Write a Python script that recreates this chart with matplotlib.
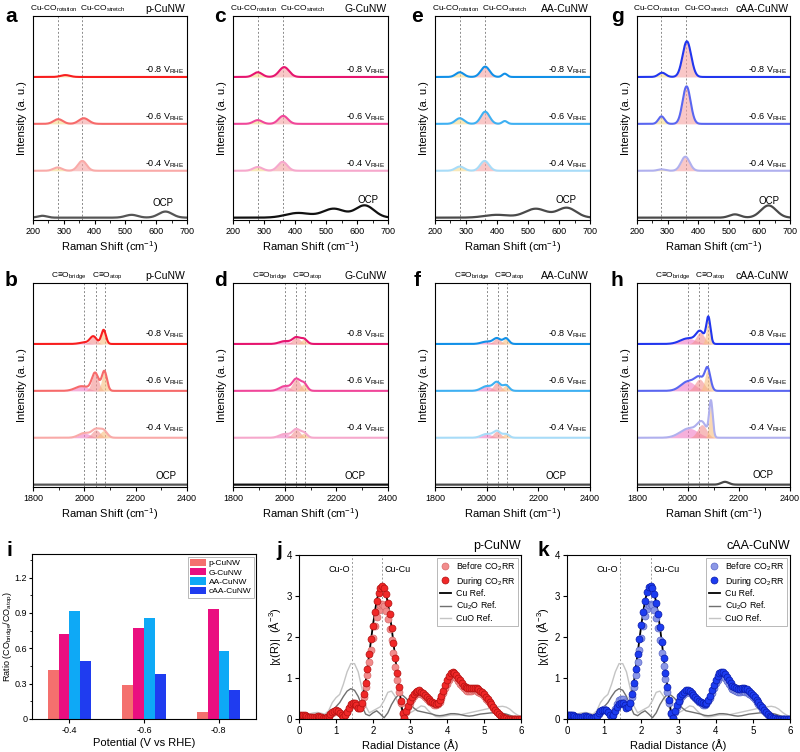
import numpy as np
import matplotlib
matplotlib.use('Agg')
import matplotlib.pyplot as plt
from matplotlib.ticker import MultipleLocator
from matplotlib.lines import Line2D

plt.rcParams['font.family'] = ['Liberation Sans', 'DejaVu Sans']
plt.rcParams['mathtext.default'] = 'regular'
plt.rcParams['axes.linewidth'] = 0.8
plt.rcParams['xtick.major.width'] = 0.8
plt.rcParams['ytick.major.width'] = 0.8
plt.rcParams['xtick.major.size'] = 3
plt.rcParams['ytick.major.size'] = 3
plt.rcParams['xtick.minor.size'] = 1.8
plt.rcParams['ytick.minor.size'] = 1.8

# ---------------- data ----------------
samples = ['p-CuNW', 'G-CuNW', 'AA-CuNW', 'cAA-CuNW']
potentials = ['-0.4', '-0.6', '-0.8']

# fitted Raman components (center cm-1, height a.u., sigma cm-1), one list per potential (-0.4, -0.6, -0.8)
cuco_p = [[(280, 0.07, 14), (360, 0.21, 14)],
          [(282, 0.10, 15), (365, 0.12, 16)],
          [(305, 0.04, 15), (360, 0.00, 15)]]
cuco_g = [[(280, 0.08, 15), (360, 0.19, 15)],
          [(280, 0.08, 14), (362, 0.17, 15)],
          [(280, 0.10, 14), (365, 0.21, 16)]]
cuco_aa = [[(280, 0.09, 14), (360, 0.21, 14)],
           [(280, 0.12, 14), (362, 0.26, 14), (425, 0.06, 8)],
           [(280, 0.10, 13), (362, 0.22, 14), (425, 0.07, 8)]]
cuco_caa = [[(280, 0.03, 12), (358, 0.30, 14)],
            [(280, 0.16, 10), (362, 0.80, 13)],
            [(282, 0.09, 12), (363, 0.76, 14)]]

ocp_low_p = [(230, 0.04, 15), (520, 0.06, 20), (630, 0.13, 22)]
ocp_low_g = [(410, 0.10, 40), (525, 0.19, 35), (625, 0.26, 30)]
ocp_low_aa = [(400, 0.06, 40), (525, 0.19, 35), (625, 0.21, 30)]
ocp_low_caa = [(520, 0.07, 18), (630, 0.26, 25)]

# C≡O region: bridge, intermediate, atop components
cob_p = [[(2000, 0.10, 22), (2045, 0.17, 16), (2075, 0.15, 14)],
         [(1990, 0.10, 25), (2042, 0.38, 13), (2078, 0.42, 10)],
         [(2000, 0.03, 20), (2035, 0.16, 13), (2075, 0.30, 9)]]
cob_g = [[(2000, 0.08, 20), (2045, 0.18, 15), (2075, 0.10, 12)],
         [(2000, 0.10, 20), (2045, 0.25, 15), (2075, 0.15, 12)],
         [(2000, 0.06, 20), (2045, 0.14, 15), (2075, 0.10, 12)]]
cob_aa = [[(2000, 0.08, 20), (2040, 0.14, 14), (2075, 0.08, 12)],
          [(2000, 0.10, 20), (2040, 0.18, 14), (2075, 0.12, 12)],
          [(2000, 0.05, 20), (2040, 0.12, 14), (2075, 0.12, 11)]]
cob_caa = [[(2005, 0.20, 35), (2055, 0.28, 18), (2090, 0.75, 7)],
           [(2000, 0.20, 28), (2045, 0.25, 18), (2077, 0.45, 11)],
           [(2000, 0.12, 30), (2048, 0.25, 16), (2080, 0.55, 8)]]

ocp_high_p = []
ocp_high_g = []
ocp_high_aa = []
ocp_high_caa = [(2145, 0.06, 15)]

line_colors = [['#f9aaa8', '#f66a6a', '#f81e1e'],
               ['#f6a8cc', '#f0479a', '#e6156f'],
               ['#a8dcf8', '#3fb0f2', '#1190e8'],
               ['#b0b0ee', '#5a66f0', '#2236ee']]
ocp_colors = ['#555555', '#111111', '#4a4a4a', '#4a4a4a']

# bridge / atop ratio
ratio_p = [0.42, 0.29, 0.06]
ratio_g = [0.72, 0.77, 0.93]
ratio_aa = [0.92, 0.86, 0.58]
ratio_caa = [0.49, 0.38, 0.25]
bar_colors = ['#f4706e', '#ea0f80', '#0ea9f6', '#1f3cf0']

# EXAFS |chi(R)| references, R = 0.0 ... 6.0 step 0.1
r_ref = np.round(np.arange(61) * 0.1, 1)
cu_ref = [0.10, 0.10, 0.08, 0.05, 0.04, 0.07, 0.05, 0.02, 0.08, 0.17,
          0.21, 0.15, 0.05, 0.18, 0.36, 0.38, 0.27, 0.40, 0.90, 1.60,
          2.30, 2.90, 3.22, 3.22, 2.85, 2.25, 1.50, 0.80, 0.15, 0.20,
          0.45, 0.62, 0.70, 0.68, 0.60, 0.50, 0.42, 0.38, 0.48, 0.72,
          0.98, 1.16, 1.19, 1.06, 0.91, 0.81, 0.79, 0.80, 0.80, 0.73,
          0.63, 0.51, 0.38, 0.25, 0.13, 0.05, 0.02, 0.02, 0.02, 0.02, 0.02]
cu2o_ref = [0.10, 0.10, 0.09, 0.08, 0.10, 0.12, 0.10, 0.08, 0.12, 0.20,
            0.30, 0.40, 0.55, 0.68, 0.74, 0.70, 0.55, 0.32, 0.12, 0.08,
            0.15, 0.20, 0.12, 0.03, 0.15, 0.35, 0.50, 0.60, 0.58, 0.50,
            0.38, 0.27, 0.20, 0.18, 0.16, 0.14, 0.12, 0.09, 0.08, 0.09,
            0.11, 0.13, 0.13, 0.12, 0.10, 0.08, 0.07, 0.08, 0.10, 0.12,
            0.13, 0.14, 0.15, 0.15, 0.15, 0.14, 0.12, 0.09, 0.06, 0.04, 0.03]
cuo_ref = [0.15, 0.14, 0.12, 0.13, 0.15, 0.16, 0.14, 0.12, 0.20, 0.40,
           0.52, 0.60, 0.85, 1.15, 1.35, 1.35, 1.15, 0.75, 0.32, 0.15,
           0.20, 0.25, 0.30, 0.45, 0.65, 0.68, 0.55, 0.35, 0.20, 0.12,
           0.15, 0.20, 0.26, 0.32, 0.30, 0.20, 0.12, 0.06, 0.05, 0.06,
           0.08, 0.10, 0.10, 0.10, 0.11, 0.13, 0.15, 0.17, 0.19, 0.21,
           0.23, 0.25, 0.27, 0.29, 0.30, 0.31, 0.29, 0.24, 0.16, 0.10, 0.06]

# EXAFS samples, R = 0.00 ... 6.00 step 0.05
r_smp = np.round(np.arange(121) * 0.05, 2)
during_p = [0.10, 0.10, 0.10, 0.09, 0.08, 0.06, 0.05, 0.04, 0.04, 0.06,
            0.07, 0.06, 0.05, 0.03, 0.02, 0.04, 0.08, 0.13, 0.17, 0.20,
            0.21, 0.19, 0.15, 0.10, 0.05, 0.10, 0.18, 0.28, 0.36, 0.39,
            0.38, 0.33, 0.27, 0.28, 0.39, 0.60, 0.88, 1.22, 1.58, 1.94,
            2.28, 2.60, 2.88, 3.08, 3.20, 3.24, 3.19, 3.05, 2.83, 2.55,
            2.23, 1.86, 1.48, 1.12, 0.78, 0.45, 0.14, 0.03, 0.19, 0.32,
            0.44, 0.54, 0.61, 0.66, 0.69, 0.70, 0.67, 0.63, 0.59, 0.54,
            0.49, 0.45, 0.41, 0.38, 0.37, 0.40, 0.46, 0.56, 0.69, 0.82,
            0.94, 1.04, 1.11, 1.14, 1.13, 1.08, 1.01, 0.94, 0.87, 0.81,
            0.77, 0.75, 0.75, 0.75, 0.76, 0.76, 0.75, 0.73, 0.69, 0.65,
            0.60, 0.54, 0.48, 0.42, 0.36, 0.30, 0.23, 0.17, 0.12, 0.07,
            0.04, 0.02, 0.02, 0.01, 0.01, 0.01, 0.01, 0.01, 0.01, 0.01, 0.01]
before_p = [0.08, 0.08, 0.08, 0.07, 0.07, 0.05, 0.04, 0.03, 0.03, 0.05,
            0.06, 0.05, 0.04, 0.03, 0.02, 0.04, 0.07, 0.11, 0.15, 0.18,
            0.19, 0.17, 0.14, 0.09, 0.05, 0.10, 0.17, 0.27, 0.35, 0.38,
            0.37, 0.32, 0.26, 0.26, 0.35, 0.53, 0.78, 1.07, 1.38, 1.69,
            1.98, 2.26, 2.50, 2.67, 2.77, 2.80, 2.76, 2.64, 2.45, 2.20,
            1.92, 1.61, 1.28, 0.96, 0.67, 0.38, 0.12, 0.03, 0.17, 0.29,
            0.40, 0.49, 0.56, 0.60, 0.63, 0.64, 0.62, 0.58, 0.54, 0.50,
            0.45, 0.41, 0.38, 0.35, 0.34, 0.37, 0.42, 0.51, 0.63, 0.75,
            0.86, 0.95, 1.02, 1.05, 1.04, 0.99, 0.93, 0.86, 0.80, 0.75,
            0.71, 0.69, 0.69, 0.69, 0.70, 0.70, 0.69, 0.67, 0.64, 0.60,
            0.55, 0.50, 0.44, 0.39, 0.33, 0.27, 0.21, 0.16, 0.11, 0.07,
            0.04, 0.02, 0.01, 0.01, 0.01, 0.01, 0.01, 0.01, 0.01, 0.01, 0.01]
during_c = [0.10, 0.10, 0.10, 0.09, 0.08, 0.06, 0.05, 0.04, 0.05, 0.07,
            0.08, 0.06, 0.04, 0.03, 0.02, 0.04, 0.08, 0.14, 0.19, 0.22,
            0.23, 0.21, 0.16, 0.10, 0.05, 0.10, 0.19, 0.29, 0.37, 0.40,
            0.39, 0.34, 0.28, 0.29, 0.40, 0.61, 0.89, 1.23, 1.59, 1.95,
            2.29, 2.61, 2.89, 3.09, 3.21, 3.25, 3.20, 3.06, 2.84, 2.56,
            2.24, 1.87, 1.49, 1.13, 0.79, 0.46, 0.15, 0.03, 0.19, 0.33,
            0.45, 0.55, 0.62, 0.67, 0.70, 0.71, 0.68, 0.64, 0.59, 0.54,
            0.49, 0.45, 0.41, 0.38, 0.37, 0.40, 0.46, 0.57, 0.70, 0.83,
            0.95, 1.05, 1.12, 1.15, 1.14, 1.09, 1.02, 0.95, 0.87, 0.81,
            0.77, 0.75, 0.74, 0.74, 0.75, 0.75, 0.74, 0.72, 0.68, 0.64,
            0.59, 0.53, 0.47, 0.41, 0.35, 0.29, 0.22, 0.16, 0.11, 0.07,
            0.04, 0.02, 0.02, 0.01, 0.01, 0.01, 0.01, 0.01, 0.01, 0.01, 0.01]
before_c = [0.09, 0.09, 0.09, 0.08, 0.07, 0.05, 0.04, 0.03, 0.04, 0.06,
            0.07, 0.06, 0.04, 0.03, 0.03, 0.05, 0.08, 0.13, 0.18, 0.22,
            0.24, 0.22, 0.18, 0.12, 0.08, 0.14, 0.25, 0.37, 0.46, 0.50,
            0.48, 0.42, 0.35, 0.33, 0.38, 0.54, 0.78, 1.07, 1.38, 1.69,
            1.98, 2.27, 2.51, 2.68, 2.78, 2.81, 2.77, 2.65, 2.46, 2.21,
            1.93, 1.62, 1.29, 0.97, 0.67, 0.38, 0.12, 0.03, 0.17, 0.30,
            0.41, 0.50, 0.57, 0.62, 0.65, 0.66, 0.64, 0.60, 0.55, 0.51,
            0.46, 0.42, 0.38, 0.35, 0.34, 0.37, 0.43, 0.52, 0.64, 0.76,
            0.87, 0.96, 1.02, 1.05, 1.04, 0.99, 0.93, 0.86, 0.79, 0.74,
            0.70, 0.68, 0.67, 0.67, 0.68, 0.68, 0.67, 0.65, 0.62, 0.58,
            0.53, 0.48, 0.42, 0.37, 0.31, 0.25, 0.20, 0.15, 0.10, 0.06,
            0.03, 0.02, 0.01, 0.01, 0.01, 0.01, 0.01, 0.01, 0.01, 0.01, 0.01]

# ---------------- figure ----------------
fig = plt.figure(figsize=(8, 7.52), dpi=100)


def px_axes(l, t, r, b):
    return fig.add_axes([l / 800, 1 - b / 752, (r - l) / 800, (b - t) / 752])


def letter(x, y, s):
    fig.text(x / 800, 1 - y / 752, s, fontsize=15, fontweight='bold', ha='center', va='center')


def gauss(x, c, h, s):
    return h * np.exp(-(x - c) ** 2 / (2 * s ** 2))


x_low = np.linspace(200, 700, 1001)
x_high = np.linspace(1800, 2400, 1201)


def raman(ax, x, peaks_by_pot, ocp_peaks, colors, ocp_color, fills, title,
          vlines, ocp_x, ocp_y, lab_dy):
    for v in vlines:
        ax.axvline(v, color='#8a8a8a', ls=(0, (2, 2)), lw=0.7, zorder=0)
    # OCP
    y0 = np.zeros_like(x)
    for c, h, s in ocp_peaks:
        y0 = y0 + gauss(x, c, h, s)
    ax.plot(x, y0, color=ocp_color, lw=1.6)
    ax.text(ocp_x, ocp_y, 'OCP', fontsize=7, ha='center', va='center')
    for k, peaks in enumerate(peaks_by_pot):
        off = k + 1
        tot = np.full_like(x, off, dtype=float)
        for j, (c, h, s) in enumerate(peaks):
            g = gauss(x, c, h, s)
            tot = tot + g
            if j < len(fills) and h > 0:
                ax.fill_between(x, off, off + g, color=fills[j], alpha=0.6, lw=0)
        ax.plot(x, tot, color=colors[k], lw=1.5)
        ax.text(x[-1] - (x[-1] - x[0]) * 0.02, off + lab_dy,
                potentials[k] + ' V$_{RHE}$', fontsize=6.5, ha='right', va='center')
    ax.set_xlim(x[0], x[-1])
    ax.set_ylim(-0.05, 4.3)
    ax.set_yticks([])
    ax.set_ylabel('Intensity (a. u.)', fontsize=8, labelpad=4)
    ax.set_xlabel('Raman Shift (cm$^{-1}$)', fontsize=8, labelpad=2)
    ax.tick_params(axis='x', labelsize=6.5, direction='out', pad=2)
    ax.text(0.99, 1.01, title, transform=ax.transAxes, ha='right', va='bottom', fontsize=7.5)


low_sets = [cuco_p, cuco_g, cuco_aa, cuco_caa]
low_ocp = [ocp_low_p, ocp_low_g, ocp_low_aa, ocp_low_caa]
high_sets = [cob_p, cob_g, cob_aa, cob_caa]
high_ocp = [ocp_high_p, ocp_high_g, ocp_high_aa, ocp_high_caa]
lefts = [33, 233, 435, 637]
rights = [187, 388, 590, 790]
letters_low = ['a', 'c', 'e', 'g']
letters_high = ['b', 'd', 'f', 'h']
letter_x = [11, 220, 417, 617]
ocp_low_xy = [(622, 0.31), (635, 0.37), (622, 0.37), (631, 0.36)]
ocp_high_xy = [(2320, 0.18), (2271, 0.18), (2267, 0.18), (2294, 0.2)]

for i in range(4):
    ax = px_axes(lefts[i], 16, rights[i], 220)
    raman(ax, x_low, low_sets[i], low_ocp[i], line_colors[i], ocp_colors[i],
          ['#f5d98a', '#f5a3a3'], samples[i], [280, 360],
          ocp_low_xy[i][0], ocp_low_xy[i][1], 0.14)
    ax.xaxis.set_major_locator(MultipleLocator(100))
    ax.xaxis.set_minor_locator(MultipleLocator(50))
    tr = ax.get_xaxis_transform()
    ax.text(343, 1.01, 'Cu-CO$_{rotation}$', transform=tr, ha='right', va='bottom', fontsize=6)
    ax.text(352, 1.01, 'Cu-CO$_{stretch}$', transform=tr, ha='left', va='bottom', fontsize=6)
    letter(letter_x[i], 16, letters_low[i])

    ax = px_axes(lefts[i], 283, rights[i], 487)
    raman(ax, x_high, high_sets[i], high_ocp[i], line_colors[i], ocp_colors[i],
          ['#f07cc4', '#f39090', '#f8be80'], samples[i], [2000, 2045, 2080],
          ocp_high_xy[i][0], ocp_high_xy[i][1], 0.2)
    ax.xaxis.set_major_locator(MultipleLocator(200))
    ax.xaxis.set_minor_locator(MultipleLocator(100))
    tr = ax.get_xaxis_transform()
    ax.text(2010, 1.01, 'C≡O$_{bridge}$', transform=tr, ha='right', va='bottom', fontsize=6)
    ax.text(2028, 1.01, 'C≡O$_{atop}$', transform=tr, ha='left', va='bottom', fontsize=6)
    letter(letter_x[i], 281, letters_high[i])

# ---- panel i: ratio bars ----
ax = px_axes(32, 554, 256, 719)
groups = np.arange(len(potentials))
width = 0.145
ratios = [ratio_p, ratio_g, ratio_aa, ratio_caa]
for k in range(4):
    ax.bar(groups + (k - 1.5) * width, ratios[k], width, color=bar_colors[k], label=samples[k])
ax.set_xlim(-0.5, 2.5)
ax.set_ylim(0, 1.4)
ax.set_xticks(groups)
ax.set_xticklabels(potentials)
ax.set_yticks([0, 0.3, 0.6, 0.9, 1.2])
ax.set_yticklabels(['0', '0.3', '0.6', '0.9', '1.2'])
ax.yaxis.set_minor_locator(MultipleLocator(0.15))
ax.tick_params(labelsize=6.5, pad=2)
ax.tick_params(axis='y', pad=1, length=2.5)
ax.set_xlabel('Potential (V vs RHE)', fontsize=8, labelpad=2)
ax.set_ylabel('Ratio (CO$_{bridge}$/CO$_{atop}$)', fontsize=6.5)
ax.yaxis.set_label_coords(-0.076, 0.5)
leg = ax.legend(loc='upper right', fontsize=6, frameon=True, fancybox=False,
                handlelength=2.0, handleheight=1.0, labelspacing=0.1,
                borderpad=0.25, handletextpad=0.3, borderaxespad=0.3)
leg.get_frame().set_edgecolor('#999999')
leg.get_frame().set_linewidth(0.6)
letter(9, 551, 'i')


# ---- panels j, k: EXAFS ----
def exafs(ax, before, during, c_before, e_before, c_during, e_during, title):
    ax.axvline(1.42, color='#9a9a9a', ls=(0, (2, 2)), lw=0.7, zorder=0)
    ax.axvline(2.25, color='#9a9a9a', ls=(0, (2, 2)), lw=0.7, zorder=0)
    ax.plot(r_ref, cuo_ref, color='#c4c4c4', lw=1.0)
    ax.plot(r_ref, cu2o_ref, color='#707070', lw=1.0)
    ax.plot(r_ref, cu_ref, color='black', lw=1.3)
    ax.plot(r_smp, before, 'o', ms=5, mfc=c_before, mec=e_before, mew=0.5)
    ax.plot(r_smp, during, 'o', ms=5, mfc=c_during, mec=e_during, mew=0.5)
    ax.set_xlim(0, 6)
    ax.set_ylim(0, 4)
    ax.set_xticks(range(7))
    ax.set_yticks(range(5))
    ax.tick_params(labelsize=7, pad=2)
    ax.set_xlabel('Radial Distance (Å)', fontsize=8, labelpad=2)
    ax.set_ylabel('|χ(R)|  (Å$^{-3}$)', fontsize=8, labelpad=3)
    ax.text(1.37, 3.65, 'Cu-O', fontsize=6.5, ha='right', va='center')
    ax.text(2.32, 3.65, 'Cu-Cu', fontsize=6.5, ha='left', va='center')
    ax.text(1.0, 1.02, title, transform=ax.transAxes, ha='right', va='bottom', fontsize=9)
    handles = [Line2D([], [], ls='', marker='o', ms=5, mfc=c_before, mec=e_before, mew=0.5),
               Line2D([], [], ls='', marker='o', ms=5, mfc=c_during, mec=e_during, mew=0.5),
               Line2D([], [], color='black', lw=1.3),
               Line2D([], [], color='#707070', lw=1.0),
               Line2D([], [], color='#c4c4c4', lw=1.0)]
    labels = ['Before CO$_2$RR', 'During CO$_2$RR', 'Cu Ref.', 'Cu$_2$O Ref.', 'CuO Ref.']
    leg = ax.legend(handles, labels, loc='upper right', fontsize=6.3, frameon=True,
                    fancybox=False, handlelength=1.3, labelspacing=0.2,
                    borderpad=0.3, handletextpad=0.6, borderaxespad=0.3)
    leg.get_frame().set_edgecolor('#999999')
    leg.get_frame().set_linewidth(0.6)


ax = px_axes(299, 555, 521, 719)
exafs(ax, before_p, during_p, '#f28c8c', '#d86a6a', '#f02828', '#b01010', 'p-CuNW')
letter(279, 551, 'j')

ax = px_axes(567, 555, 790, 719)
exafs(ax, before_c, during_c, '#8b97e6', '#5a68c8', '#1c3cf0', '#0a1aa8', 'cAA-CuNW')
letter(543, 551, 'k')

fig.savefig('out.png', dpi=100)
